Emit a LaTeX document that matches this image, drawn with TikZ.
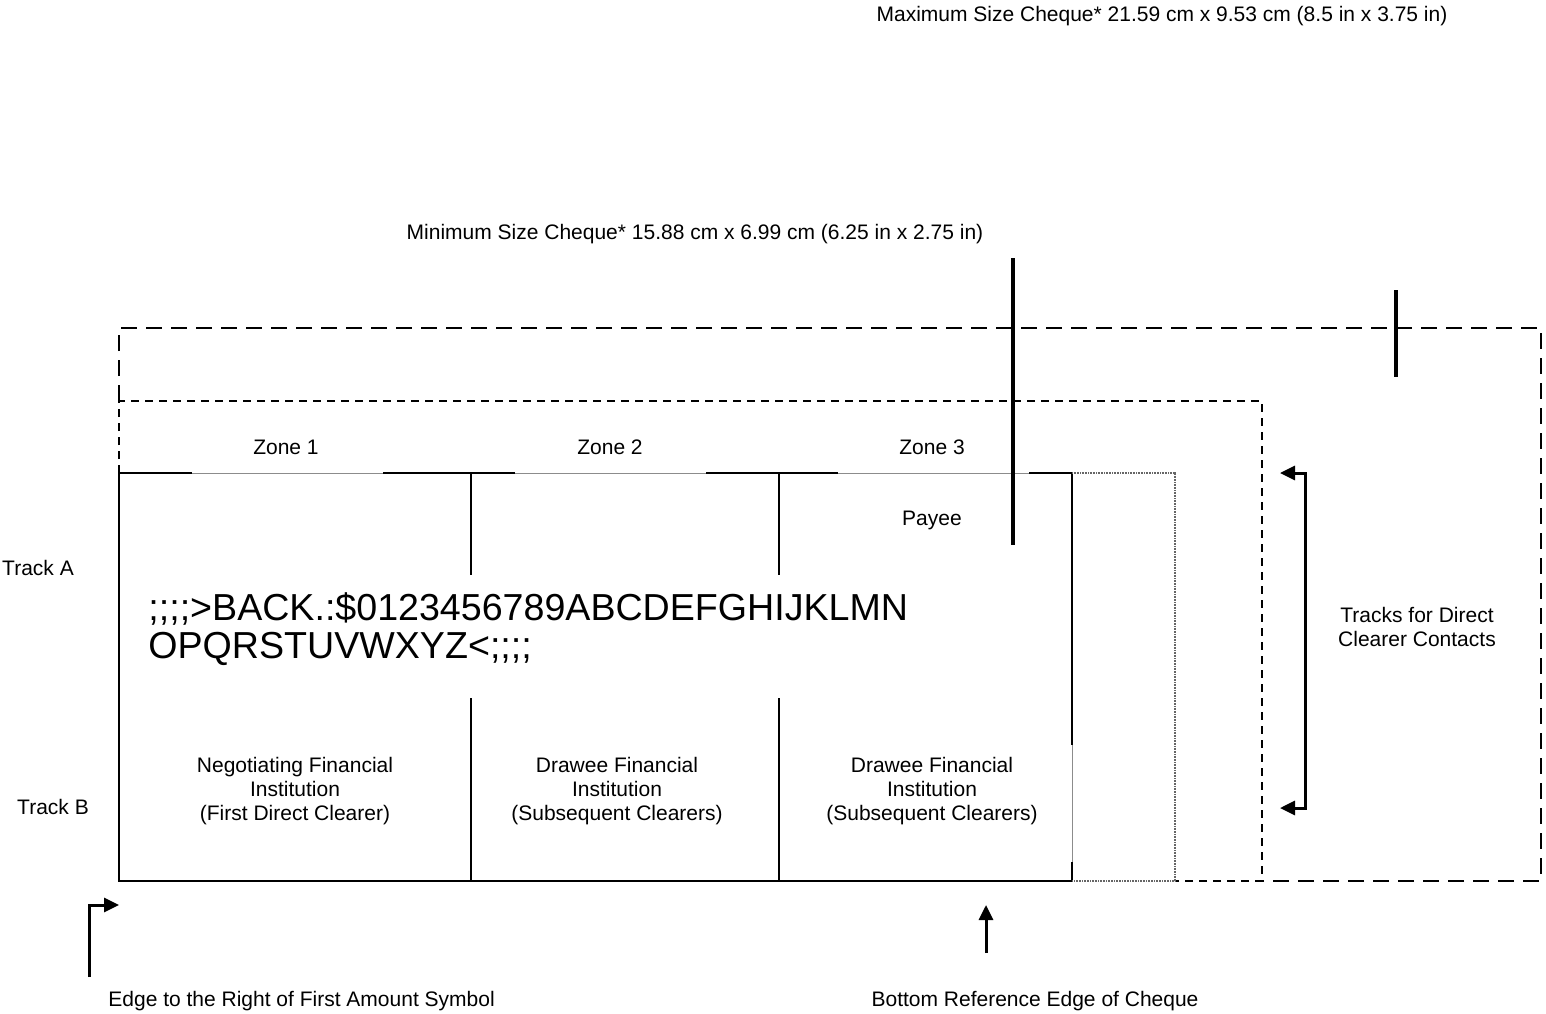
\documentclass[tikz,border=0pt]{standalone}
\usepackage{fontspec}
\setmainfont{Liberation Sans}
\usetikzlibrary{arrows.meta,positioning}
\tikzset{
  lbl/.style={font=\fontsize{10.5}{12}\selectfont,inner sep=0pt,align=center},
  micr/.style={font=\fontsize{18.8}{19}\selectfont,inner sep=0pt,align=left,anchor=west},
  edge/.style={line width=1pt},
  hair/.style={line width=0.5pt,black!45},
  dots/.style={line width=0.8pt,black!60,dash pattern=on 0.4pt off 0.4pt},
  maxdash/.style={line width=1pt,dash pattern=on 8pt off 4.5pt},
  mindash/.style={line width=0.9pt,dash pattern=on 4pt off 3pt},
  ptr/.style={line width=2pt},
  arr/.style={line width=1.5pt,-{Triangle[length=7.5pt,width=7pt]}},
  dblarr/.style={line width=1.5pt,{Triangle[length=7.5pt,width=7pt]}-{Triangle[length=7.5pt,width=7pt]}},
}
\begin{document}
\begin{tikzpicture}[x=0.5pt,y=-0.5pt]
\useasboundingbox (0,0) rectangle (1546,1013);
% cheque size outlines
\draw[maxdash] (119,401) -- (119,328) -- (1541,328) -- (1541,881) -- (1262,881);
\draw[mindash] (119,473) -- (119,401) -- (1262,401) -- (1262,881) -- (1175,881);
% zones of the back of the cheque
\draw[hair] (119,473) -- (1072,473);
\foreach \a/\b in {119/192,383/515,706/838,1029/1072} \draw[edge] (\a,473) -- (\b,473);
\draw[edge] (119,473) -- (119,881) -- (1072,881);
\foreach \x in {471,779} {\draw[edge] (\x,473) -- (\x,575); \draw[edge] (\x,698) -- (\x,881);}
\draw[edge] (1072,473) -- (1072,745); \draw[hair] (1072,745) -- (1072,862); \draw[edge] (1072,862) -- (1072,881);
\draw[dots] (1072,473) -- (1175,473) -- (1175,881) -- (1072,881);
% size pointers
\coordinate (minTop) at (1013,258); \coordinate (minEnd) at (1013,545);
\coordinate (maxTop) at (1396,290); \coordinate (maxEnd) at (1396,377);
\draw[ptr] (minTop) -- (minEnd); \draw[ptr] (maxTop) -- (maxEnd);
% labels
\node[lbl] (maxT) at (1162,16) {Maximum Size Cheque* 21.59 cm x 9.53 cm (8.5 in x 3.75 in)};
\node[lbl] (minT) at (695,234) {Minimum Size Cheque* 15.88 cm x 6.99 cm (6.25 in x 2.75 in)};
\node[lbl] (z1) at (286,447) {Zone 1}; \node[lbl] (z2) at (610,447) {Zone 2}; \node[lbl] (z3) at (932,447) {Zone 3};
\node[lbl] (payee) at (932,520) {Payee};
\node[lbl] (trkA) at (38,568) {Track A}; \node[lbl] (trkB) at (53,807) {Track B};
\node[micr] (micr) at (148,629) {;;;;>BACK.:\$0123456789ABCDEFGHIJKLMN\\OPQRSTUVWXYZ<;;;;};
\node[lbl] (nego) at (295,791) {Negotiating Financial\\Institution\\(First Direct Clearer)};
\node[lbl] (draw1) at (617,791) {Drawee Financial\\Institution\\(Subsequent Clearers)};
\node[lbl] (draw2) at (932,791) {Drawee Financial\\Institution\\(Subsequent Clearers)};
\node[lbl] (tracks) at (1417,627) {Tracks for Direct\\Clearer Contacts};
\node[lbl,anchor=west] (edgeT) at (108,1001) {Edge to the Right of First Amount Symbol};
\node[lbl] (refT) at (1035,1001) {Bottom Reference Edge of Cheque};
% arrows
\coordinate (trkTop) at (1280,473); \coordinate (trkBot) at (1280,808);
\draw[dblarr] (trkTop) -- (1305,473) -- (1305,808) -- (trkBot);
\coordinate (edgeFoot) at (89,977); \coordinate (edgeTip) at (119,905);
\draw[arr] (edgeFoot) |- (edgeTip);
\coordinate (refFoot) at (986,953); \coordinate (refTip) at (986,905);
\draw[arr] (refFoot) -- (refTip);
\end{tikzpicture}
\end{document}
